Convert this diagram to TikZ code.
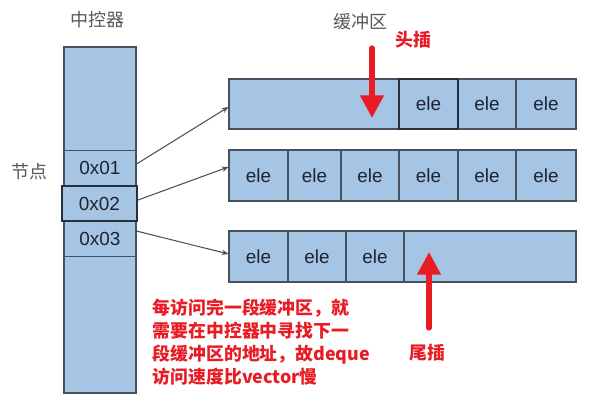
\documentclass[tikz,border=0pt]{standalone}
\usepackage{fontspec}
\setsansfont{Liberation Sans}
\newfontfamily\cjk{Noto Sans CJK SC}
\usetikzlibrary{arrows.meta}
\definecolor{bufblue}{RGB}{166,196,228}
\definecolor{edgegray}{RGB}{72,82,94}
\definecolor{edgedark}{RGB}{40,48,58}
\definecolor{txtdark}{RGB}{28,36,50}
\definecolor{titlegray}{RGB}{88,88,88}
\definecolor{hintred}{RGB}{232,28,36}

\begin{document}
\begin{tikzpicture}[x=0.75pt,y=-0.75pt,
    cell/.style={draw=edgegray,fill=bufblue,line width=0.8pt,inner sep=0pt,
      minimum width=44pt,minimum height=38pt,
      font=\sffamily\fontsize{14.2}{16}\selectfont,text=txtdark},
    slot/.style={cell,minimum width=54pt,minimum height=26.5pt},
    title/.style={font=\cjk\fontsize{13.5}{16}\selectfont,text=titlegray},
    hint/.style={font=\cjk\bfseries\fontsize{13.4}{17.3}\selectfont,text=hintred,align=left},
    ptr/.style={draw=edgegray,line width=0.8pt,-{Stealth[length=5pt,width=4pt]}},
    push/.style={draw=hintred,line width=3.9pt,line cap=round,
      -{Triangle[length=17pt,width=17pt]}}]
  \useasboundingbox (0,0) rectangle (604,403);

  % titles
  \node[title] (ctrltitle) at (97,20) {中控器};
  \node[title] (nodetitle) at (30,172) {节点};
  \node[title] (buftitle) at (360,22) {缓冲区};

  % central controller
  \node[cell,minimum width=54pt,minimum height=259.5pt] (ctrl) at (100,220) {};
  \node[slot] (n1) at (100,168) {0x01};
  \node[slot] (n3) at (100,238.5) {0x03};
  \node[slot,draw=edgedark,line width=1.1pt,minimum width=56pt] (n2) at (99.5,203.5) {0x02};

  % buffers
  \node[cell,minimum width=260.25pt,minimum height=37.5pt] (row1) at (402.5,104) {};
  \node[cell,minimum width=260.25pt,minimum height=38.25pt] (row2) at (402.5,175.5) {};
  \node[cell,minimum width=260.25pt,minimum height=38.25pt] (row3) at (402.5,256.5) {};
  \foreach \l/\r [count=\i] in {458/516,516/576}
    \node[cell,minimum width={(\r-\l)*0.75pt},minimum height=37.5pt] (a\i) at ({(\l+\r)/2},104) {ele};
  \node[cell,draw=edgedark,line width=1.1pt,minimum width=44.25pt,minimum height=37.5pt] (a0) at (428.5,104) {ele};
  \foreach \l/\r [count=\i] in {229/288,288/341,341/399,399/458,458/516,516/576}
    \node[cell,minimum width={(\r-\l)*0.75pt},minimum height=38.25pt] (b\i) at ({(\l+\r)/2},175.5) {ele};
  \foreach \l/\r [count=\i] in {229/288,288/346,346/404}
    \node[cell,minimum width={(\r-\l)*0.75pt},minimum height=38.25pt] (c\i) at ({(\l+\r)/2},256.5) {ele};

  % pointers
  \draw[ptr] ([yshift=3pt]n1.east) -- ([yshift=-2.25pt]row1.west);
  \draw[ptr] ([yshift=2.5pt]n2.east) -- ([yshift=6.4pt]row2.west);
  \draw[ptr] ([yshift=5.6pt]n3.east) -- ([yshift=1.9pt]row3.west);

  % head / tail insertion
  \node[hint] (headlbl) at (413,40) {头插};
  \node[hint] (taillbl) at (427,353) {尾插};
  \coordinate (headfrom) at (372,48);
  \coordinate (headto) at (372,118);
  \coordinate (tailfrom) at (429,328);
  \coordinate (tailto) at (429,252);
  \draw[push] (headfrom) -- (headto);
  \draw[push] (tailfrom) -- (tailto);

  \node[hint,anchor=west] (note) at (148,342)
    {每访问完一段缓冲区，就\\需要在中控器中寻找下一\\段缓冲区的地址，故deque\\访问速度比vector慢};
\end{tikzpicture}
\end{document}
